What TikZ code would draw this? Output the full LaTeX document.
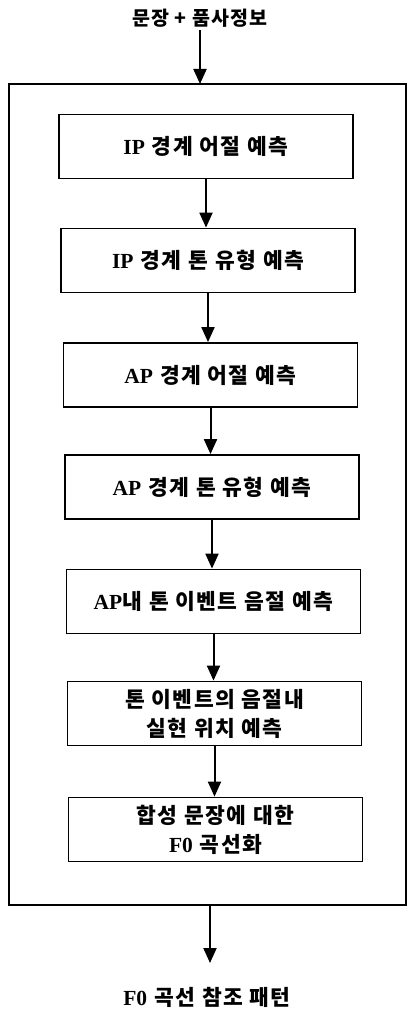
\documentclass[tikz,border=0pt]{standalone}
\usepackage{fontspec}
\setmainfont{Noto Sans CJK KR}[LetterSpace=6]
\newfontfamily\latf{Liberation Serif}
\newcommand{\lt}[1]{{\latf\bfseries #1}}
\newcommand{\widesp}{\spaceskip=7pt plus 1pt\relax}
\usetikzlibrary{arrows.meta}
\begin{document}
\begin{tikzpicture}[x=1pt,y=-1pt,
  txt/.style={font=\fontsize{21.5}{29}\selectfont\bfseries\widesp},
  stepbox/.style={txt,draw,line width=1.8pt,minimum width=294pt,minimum height=64pt,inner sep=0pt,align=center},
  framebox/.style={draw,line width=1.8pt,minimum width=397pt,minimum height=821pt,inner sep=0pt},
  lbl/.style={txt,inner sep=0pt},
  flow/.style={line width=2pt,-{Triangle[width=13pt,length=15pt]}}]
\useasboundingbox (0,0) rectangle (409,1011);
\node[framebox] (frame) at (207.5,494.5) {};
\node[lbl,font=\fontsize{19.5}{24}\selectfont\bfseries] (title) at (200,18) {문장 + 품사정보};
\node[stepbox] (b1) at (206,146.5) {\lt{IP} 경계 어절 예측};
\node[stepbox] (b2) at (208,260.5) {\lt{IP} 경계 톤 유형 예측};
\node[stepbox] (b3) at (210.5,375) {\lt{AP} 경계 어절 예측};
\node[stepbox] (b4) at (212,487) {\lt{AP} 경계 톤 유형 예측};
\node[stepbox] (b5) at (213.5,601.5) {\lt{AP}내 톤 이벤트 음절 예측};
\node[stepbox] (b6) at (214.5,713.5) {톤 이벤트의 음절내\\실현 위치 예측};
\node[stepbox] (b7) at (215.5,829.5) {합성 문장에 대한\\\lt{F0} 곡선화};
\node[lbl] (out) at (207,997) {\lt{F0} 곡선 참조 패턴};
\coordinate (tin) at (200,84);
\coordinate (ostart) at (210,905);
\coordinate (oend) at (210,963);
\draw[flow] (title.south) ++(0,3) -- (tin);
\draw[flow] (b1.south) -- (b1.south |- b2.north);
\draw[flow] (b2.south) -- (b2.south |- b3.north);
\draw[flow] (b3.south) -- (b3.south |- b4.north);
\draw[flow] (b4.south) -- (b4.south |- b5.north);
\draw[flow] (b5.south) -- (b5.south |- b6.north);
\draw[flow] (b6.south) -- (b6.south |- b7.north);
\draw[flow] (ostart) -- (oend);
\end{tikzpicture}
\end{document}
